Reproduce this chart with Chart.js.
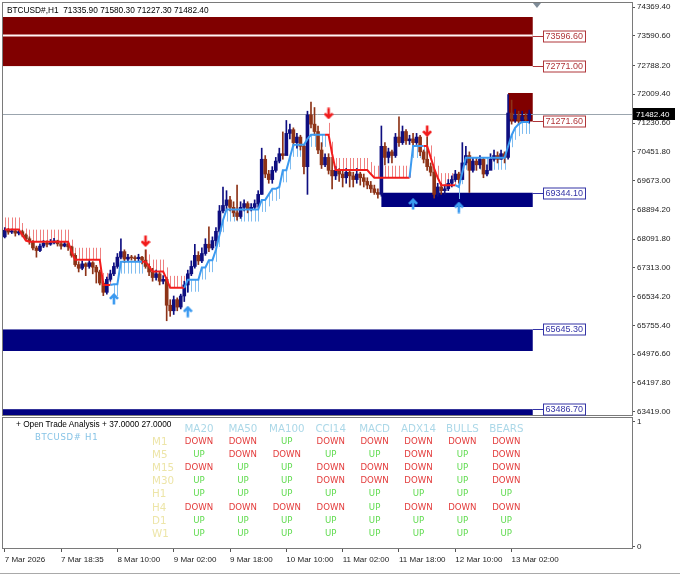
<!DOCTYPE html>
<html>
<head>
<meta charset="utf-8">
<script src="https://cdn.jsdelivr.net/npm/chart.js@4.4.1/dist/chart.umd.min.js"></script>
<style>
  html, body { margin: 0; padding: 0; background: #fff; }
  #wrap { position: relative; width: 680px; height: 575px; overflow: hidden; background: #fff; }
  #main { position: absolute; left: 0; top: 0; }
  #sub { position: absolute; left: 0; top: 415px; }
  .hdr { position: absolute; left: 7px; top: 5px; font: 8.3px "Liberation Sans", Arial, sans-serif; color: #000; white-space: pre; line-height: 10px; }
  .ota { position: absolute; left: 16px; top: 419px; font: 8.3px "Liberation Sans", Arial, sans-serif; color: #000; white-space: pre; line-height: 10px; }
  .sym { position: absolute; left: 35px; top: 432px; font: 8.5px "DejaVu Sans", sans-serif; color: #86c3e6; letter-spacing: 0.7px; white-space: pre; line-height: 10px; }
  .cell { position: absolute; width: 60px; text-align: center; white-space: pre; line-height: 12px; font-family: "DejaVu Sans", sans-serif; }
  .colh { font-size: 10.3px; color: #acd8e8; }
  .rowh { font-size: 10.3px; color: #ede5a8; text-align: left; }
  .dn { font-size: 8.6px; color: #e33b3b; }
  .up { font-size: 8.6px; color: #5fdb4e; }
  .strip { position: absolute; left: 0; top: 573px; width: 680px; height: 1px; background: #a9a9a9; }
</style>
</head>
<body>
<div id="wrap">
  <canvas id="main" width="680" height="418"></canvas>
  <canvas id="sub" width="680" height="160"></canvas>
  <div class="hdr" id="hdr"></div>
  <div class="ota">+ Open Trade Analysis + 37.0000 27.0000</div>
  <div class="sym">BTCUSD# H1</div>
  <div id="table"></div>
  <div class="strip"></div>
</div>
<script>
// ---------- Datos ----------
var symbolName = "BTCUSD#,H1";
var firstOpen = 68150;
var closes = [
  68330, 68280, 68310, 68250, 68290, 68200, 68100, 68020, 67850, 67780,
  67900, 67980, 67950, 67990, 68040, 67960, 67900, 67960, 67880, 67650,
  67400, 67300, 67420, 67350, 67450, 67330, 67200, 66900, 66650, 67000,
  67150, 67350, 67600, 67750, 67550, 67600, 67580, 67560, 67600, 67520,
  67350, 67200, 67050, 67150, 66950, 67000, 66300, 66150, 66450, 66250,
  66550, 66850, 67150, 67350, 67650, 67500, 67700, 67950, 67850, 68050,
  68300, 68850, 69000, 69150, 68950, 68800, 68700, 68950, 69050, 68900,
  68950, 69050, 69300, 70250, 69850, 69700, 69950, 70200, 70400, 70350,
  70950, 71050, 70700, 70850, 70600, 70050, 71450, 71200, 71000, 70500,
  70100, 70300, 69950, 69800, 69950, 69850, 69750, 69900, 69800, 69700,
  69850, 69750, 69650, 69550, 69450, 69350, 69300, 70600, 70300, 70450,
  70350, 70850, 70700, 71000, 70750, 70800, 70700, 70850, 70450, 70250,
  70050, 69900, 69300, 69500, 69400, 69450, 69600, 69700, 69850, 69700,
  70150, 70350, 69950, 70200, 70100, 70250, 69850, 69950, 70250, 70350,
  70250, 70400, 70300, 71500, 71350, 71450, 71300, 71400, 71335.9, 71482.4
];
var highs = [
  68400, 68380, 68360, 68340, 68350, 68330, 68230, 68150, 68050, 67900,
  67960, 68050, 68040, 68080, 68110, 68060, 68000, 68030, 67990, 67900,
  67700, 67480, 67500, 67450, 67520, 67480, 67380, 67250, 66950, 67060,
  67250, 67450, 67700, 68100, 67800, 67680, 67650, 67640, 67680, 67620,
  67800, 67420, 67300, 67250, 67200, 67100, 67050, 66450, 66550, 66500,
  66600, 66950, 67250, 67500, 67950, 67750, 67850, 68100, 68420, 68150,
  68400, 69000, 69500, 69400, 69250, 69100, 69550, 69100, 69150, 69100,
  69050, 69150, 69400, 70550, 70350, 69950, 70050, 70300, 70550, 70990,
  71300, 71200, 71100, 70950, 70900, 70650, 71550, 71800, 71650, 71150,
  70700, 70400, 70400, 70300, 70050, 70000, 69950, 70000, 69950, 69900,
  70000, 69900, 69850, 69750, 69650, 69550, 69450, 71150, 70700, 70550,
  70500, 70950, 71400, 71150, 71050, 70900, 70950, 70950, 70900, 70500,
  70850, 70150, 70000, 69600, 69600, 69550, 69700, 69800, 69950, 69900,
  70700, 70600, 70450, 70300, 70300, 70350, 70300, 70100, 70400, 70500,
  70450, 70500, 70450, 72000, 71850, 71600, 71550, 71550, 71500, 71580.3
];
var lows = [
  68120, 68220, 68240, 68170, 68200, 68150, 68050, 67950, 67800, 67600,
  67750, 67860, 67880, 67920, 67960, 67900, 67820, 67880, 67780, 67600,
  67350, 67200, 67260, 67100, 67300, 67150, 66900, 66850, 66560, 66600,
  66950, 67100, 67300, 67550, 67450, 67480, 67520, 67480, 67500, 67420,
  67300, 67100, 66950, 66980, 66850, 66880, 65880, 66000, 66050, 66150,
  66200, 66400, 66650, 67100, 67300, 67400, 67450, 67650, 67750, 67800,
  67900, 68250, 68800, 68900, 68850, 68700, 68600, 68650, 68850, 68800,
  68850, 68900, 68950, 69300, 69750, 69600, 69600, 69900, 70150, 70250,
  70500, 70800, 70600, 70550, 70500, 69850, 69300, 71100, 70900, 70400,
  70000, 70050, 69850, 69450, 69700, 69650, 69500, 69600, 69500, 69500,
  69600, 69550, 69500, 69450, 69350, 69300, 69200, 69250, 70100, 70150,
  70150, 70300, 70600, 70650, 70650, 70650, 70600, 70650, 70350, 70150,
  69950, 69800, 69200, 69250, 69300, 69300, 69400, 69500, 69650, 69600,
  69750, 70100, 69350, 69900, 69950, 70000, 69750, 69800, 70050, 70200,
  70150, 70250, 70150, 70250, 71200, 71250, 71200, 71250, 71250, 71227.3
];
// Línea de tendencia (roja arriba del precio, azul debajo)
var trendLine = [
  68350, 68350, 68350, 68350, 68350, 68200, 68050, 68020, 68020, 68020,
  68020, 68020, 68020, 68020, 68020, 68020, 68020, 68020, 68020, 67750,
  67530, 67530, 67530, 67530, 67530, 67530, 67530, 67530, 66850, 66850,
  66850, 66870, 66870, 67480, 67480, 67480, 67480, 67480, 67480, 67480,
  67480, 67350, 67210, 67210, 67210, 67210, 67000, 66770, 66770, 66770,
  66770, 66770, 66990, 66990, 66990, 66990, 67320, 67320, 67520, 67520,
  67800, 68200, 68600, 68890, 68890, 68890, 68890, 68890, 68890, 68890,
  68890, 68890, 68890, 69150, 69150, 69300, 69450, 69450, 69500, 69950,
  69950, 70300, 70640, 70640, 70640, 70640, 70800, 70910, 70910, 70910,
  70910, 70910, 70910, 70400, 69960, 69960, 69960, 69960, 69960, 69960,
  69960, 69960, 69960, 69960, 69850, 69750, 69750, 69750, 69750, 69750,
  69750, 69750, 69750, 69750, 69750, 69750, 70610, 70610, 70610, 70610,
  70610, 70300, 70000, 69750, 69550, 69550, 69550, 69550, 69550, 69500,
  69900, 70290, 70290, 70290, 70290, 70290, 70290, 70290, 70290, 70290,
  70290, 70290, 70290, 70600, 70900, 71100, 71200, 71260, 71260, 71260
];
var trendFlips = [31, 40, 52, 92, 116, 120, 129];   // empieza bajista
var sellArrowBars = [40, 92, 120];
var sellArrowPrices = [68038, 71493, 71014];
var buyArrowBars = [31, 52, 116, 129];
var buyArrowPrices = [66469, 66125, 69039, 68944];

// Zonas de oferta / demanda
var zoneFrom = [-0.5, 143, 107, -0.5, -0.5];
var zoneTo = [150, 150, 150, 150, 150];
var zoneHigh = [74099, 72043, 69344.10, 65645.30, 63486.70];
var zoneLow = [72771.00, 71271.60, 68958, 65062, 63300];
var zoneKind = ["supply", "supply", "demand", "demand", "demand"];
var zoneMidLine = 73596.60;
var levelPrices = [73596.60, 72771.00, 71271.60, 69344.10, 65645.30, 63486.70];
var levelKind = ["supply", "supply", "supply", "demand", "demand", "demand"];
var levelEndBar = 150;
var bidPrice = 71482.40;

// Ejes
var yTicks = [74369.40, 73590.60, 72788.20, 72009.40, 71230.60, 70451.80, 69673.00, 68894.20,
              68091.80, 67313.00, 66534.20, 65755.40, 64976.60, 64197.80, 63419.00];
var yMin = 63330, yMax = 74478;
var xMin = -0.5, xMax = 178.2, shiftMarkBar = 151.2;
var timeLabelBars = [0, 16, 32, 48, 64, 80, 96, 112, 128, 144];
var timeLabels = ["7 Mar 2026", "7 Mar 18:35", "8 Mar 10:00", "9 Mar 02:00", "9 Mar 18:00",
                  "10 Mar 10:00", "11 Mar 02:00", "11 Mar 18:00", "12 Mar 10:00", "13 Mar 02:00"];

// Tabla del panel inferior
var tfNames = ["M1", "M5", "M15", "M30", "H1", "H4", "D1", "W1"];
var indNames = ["MA20", "MA50", "MA100", "CCI14", "MACD", "ADX14", "BULLS", "BEARS"];
var signalRows = [
  ["DOWN", "DOWN", "UP", "DOWN", "DOWN", "DOWN", "DOWN", "DOWN"],
  ["UP", "DOWN", "DOWN", "UP", "UP", "DOWN", "UP", "DOWN"],
  ["DOWN", "UP", "UP", "DOWN", "DOWN", "DOWN", "UP", "DOWN"],
  ["UP", "UP", "UP", "DOWN", "DOWN", "DOWN", "UP", "DOWN"],
  ["UP", "UP", "UP", "UP", "UP", "UP", "UP", "UP"],
  ["DOWN", "DOWN", "DOWN", "DOWN", "UP", "DOWN", "DOWN", "DOWN"],
  ["UP", "UP", "UP", "UP", "UP", "UP", "UP", "UP"],
  ["UP", "UP", "UP", "UP", "UP", "UP", "UP", "UP"]
];

// ---------- Derivados ----------
var N = closes.length;
var opens = closes.map(function (c, i) { return i === 0 ? firstOpen : closes[i - 1]; });
var trendDir = [];
(function () {
  var d = -1, f = 0;
  for (var i = 0; i < N; i++) {
    if (f < trendFlips.length && i === trendFlips[f]) { d = -d; f++; }
    trendDir.push(d);
  }
})();

var BULL = "#0e0e80", BEAR = "#8d3317";
var RED = "#f21c1c", BLUE = "#3b9af0";
var RED_H = "#ef8080", BLUE_H = "#80bdf0";
var SUPPLY = "#800000", DEMAND = "#000080";
var LBL_SUPPLY = "#b0363a", LBL_DEMAND = "#3434a6";

function candleColor(ctx) {
  var i = ctx.dataIndex;
  return closes[i] >= opens[i] ? BULL : BEAR;
}

function arrowImg(color, down) {
  var c = document.createElement("canvas");
  c.width = 10; c.height = 12;
  var g = c.getContext("2d");
  if (down) { g.translate(0, 12); g.scale(1, -1); }
  g.strokeStyle = color; g.lineWidth = 2.6; g.lineJoin = "miter";
  g.beginPath(); g.moveTo(5, 11.5); g.lineTo(5, 1.8); g.stroke();
  g.beginPath(); g.moveTo(1, 5.8); g.lineTo(5, 1.8); g.lineTo(9, 5.8); g.stroke();
  return c;
}

// sin relleno extra por las etiquetas del eje
function noPad(s) { s.paddingTop = 0; s.paddingBottom = 0; s.paddingLeft = 0; s.paddingRight = 0; }

document.getElementById("hdr").textContent = symbolName + "  " +
  [opens[N - 1], highs[N - 1], lows[N - 1], closes[N - 1]].map(function (v) { return v.toFixed(2); }).join(" ");

// ---------- Plugins ----------
var backPlugin = {
  id: "back",
  beforeDatasetsDraw: function (chart) {
    var ctx = chart.ctx, a = chart.chartArea, xs = chart.scales.x, ys = chart.scales.y;
    ctx.save();
    ctx.beginPath(); ctx.rect(a.left, a.top, a.right - a.left, a.bottom - a.top); ctx.clip();
    zoneHigh.forEach(function (hi, k) {
      var x1 = xs.getPixelForValue(zoneFrom[k]), x2 = xs.getPixelForValue(zoneTo[k]);
      var y1 = ys.getPixelForValue(hi), y2 = ys.getPixelForValue(zoneLow[k]);
      ctx.fillStyle = zoneKind[k] === "supply" ? SUPPLY : DEMAND;
      ctx.fillRect(x1, y1, x2 - x1, y2 - y1);
    });
    var ym = ys.getPixelForValue(zoneMidLine);
    ctx.strokeStyle = "#fff4f4"; ctx.lineWidth = 2;
    ctx.beginPath();
    ctx.moveTo(xs.getPixelForValue(zoneFrom[0]), ym);
    ctx.lineTo(xs.getPixelForValue(zoneTo[0]), ym);
    ctx.stroke();
    // línea del precio actual
    var yb = Math.round(ys.getPixelForValue(bidPrice)) + 0.5;
    ctx.strokeStyle = "#9ba5ae"; ctx.lineWidth = 1;
    ctx.beginPath(); ctx.moveTo(a.left, yb); ctx.lineTo(a.right, yb); ctx.stroke();
    // rayado de la tendencia
    ctx.lineWidth = 1;
    for (var i = 0; i < N; i++) {
      var x = Math.round(xs.getPixelForValue(i)) + 0.5, y = ys.getPixelForValue(trendLine[i]);
      ctx.strokeStyle = trendDir[i] > 0 ? BLUE_H : RED_H;
      ctx.beginPath(); ctx.moveTo(x, y); ctx.lineTo(x, y + (trendDir[i] > 0 ? 12 : -12)); ctx.stroke();
    }
    ctx.restore();
  },
  afterDraw: function (chart) {
    var ctx = chart.ctx, a = chart.chartArea, xs = chart.scales.x, ys = chart.scales.y;
    ctx.save();
    // marco
    ctx.strokeStyle = "#7a7a7a"; ctx.lineWidth = 1;
    ctx.strokeRect(a.left - 0.5, a.top - 0.5, a.right - a.left + 1, a.bottom - a.top + 1);
    // etiquetas de niveles
    var xe = xs.getPixelForValue(levelEndBar);
    ctx.font = '9px "Liberation Sans", Arial, sans-serif';
    ctx.textBaseline = "middle";
    levelPrices.forEach(function (p, k) {
      var y = Math.round(ys.getPixelForValue(p)) + 0.5;
      var col = levelKind[k] === "supply" ? LBL_SUPPLY : LBL_DEMAND;
      var txt = p.toFixed(2), w = Math.ceil(ctx.measureText(txt).width) + 4;
      var bx = Math.round(xe) + 10.5;
      ctx.strokeStyle = col;
      ctx.beginPath(); ctx.moveTo(xe, y); ctx.lineTo(bx, y); ctx.stroke();
      ctx.fillStyle = "#fff"; ctx.fillRect(bx, y - 5.5, w, 11);
      ctx.strokeRect(bx, y - 5.5, w, 11);
      ctx.fillStyle = col; ctx.textAlign = "left";
      ctx.fillText(txt, bx + 2, y + 0.5);
    });
    // caja del precio actual
    var yb = Math.round(ys.getPixelForValue(bidPrice));
    ctx.fillStyle = "#000"; ctx.fillRect(a.right + 1, yb - 6, 42, 12);
    ctx.fillStyle = "#fff"; ctx.font = '8px "Liberation Sans", Arial, sans-serif';
    ctx.fillText(bidPrice.toFixed(2), a.right + 4, yb + 0.5);
    // marca de desplazamiento
    var xm = xs.getPixelForValue(shiftMarkBar);
    ctx.fillStyle = "#7f8c98";
    ctx.beginPath(); ctx.moveTo(xm - 4, a.top); ctx.lineTo(xm + 4, a.top); ctx.lineTo(xm, a.top + 5); ctx.closePath(); ctx.fill();
    ctx.restore();
  }
};

var framePlugin = {
  id: "frame",
  afterDraw: function (chart) {
    var ctx = chart.ctx, a = chart.chartArea;
    ctx.save();
    ctx.strokeStyle = "#7a7a7a"; ctx.lineWidth = 1;
    ctx.strokeRect(a.left - 0.5, a.top - 0.5, a.right - a.left + 1, a.bottom - a.top + 1);
    ctx.restore();
  }
};

// ---------- Gráfico principal ----------
var idx = closes.map(function (c, i) { return i; });
new Chart(document.getElementById("main"), {
  type: "bar",
  data: {
    datasets: [
      {
        type: "bar", order: 4, grouped: false,
        data: idx.map(function (i) { return { x: i, y: [lows[i], highs[i]] }; }),
        backgroundColor: candleColor, borderWidth: 0, barThickness: 1
      },
      {
        type: "bar", order: 3, grouped: false,
        data: idx.map(function (i) { return { x: i, y: [opens[i], closes[i]] }; }),
        backgroundColor: candleColor, borderWidth: 0, barThickness: 3, minBarLength: 1
      },
      {
        type: "line", order: 2,
        data: idx.map(function (i) { return { x: i, y: trendLine[i] }; }),
        borderColor: RED, borderWidth: 2, pointRadius: 0, tension: 0,
        segment: { borderColor: function (ctx) { return trendDir[ctx.p1DataIndex] > 0 ? BLUE : RED; } }
      },
      {
        type: "scatter", order: 1,
        data: sellArrowBars.map(function (b, k) { return { x: b, y: sellArrowPrices[k] }; }),
        pointStyle: arrowImg(RED, true), pointRadius: 6
      },
      {
        type: "scatter", order: 1,
        data: buyArrowBars.map(function (b, k) { return { x: b, y: buyArrowPrices[k] }; }),
        pointStyle: arrowImg(BLUE, false), pointRadius: 6
      }
    ]
  },
  options: {
    responsive: false, animation: false, devicePixelRatio: 1,
    layout: { autoPadding: false, padding: { left: 3, top: 3, right: 0, bottom: 3 } },
    plugins: { legend: { display: false }, tooltip: { enabled: false } },
    scales: {
      x: { type: "linear", min: xMin, max: xMax, offset: false, display: false },
      y: {
        type: "linear", position: "right", min: yMin, max: yMax,
        afterBuildTicks: function (s) { s.ticks = yTicks.map(function (v) { return { value: v }; }); },
        afterFit: function (s) { s.width = 48; noPad(s); },
        ticks: {
          autoSkip: false, padding: 2, color: "#1c1c1c",
          font: { family: "Liberation Sans", size: 8 },
          callback: function (v) { return Number(v).toFixed(2); }
        },
        grid: { drawOnChartArea: false, tickLength: 3, color: "#555" },
        border: { color: "#6f6f6f" }
      }
    }
  },
  plugins: [backPlugin]
});

// ---------- Panel inferior ----------
new Chart(document.getElementById("sub"), {
  type: "line",
  data: { datasets: [{ data: [] }] },
  options: {
    responsive: false, animation: false, devicePixelRatio: 1,
    layout: { autoPadding: false, padding: { left: 3, top: 3, right: 0, bottom: 0 } },
    plugins: { legend: { display: false }, tooltip: { enabled: false } },
    scales: {
      x: {
        type: "linear", min: xMin, max: xMax, position: "bottom",
        afterBuildTicks: function (s) { s.ticks = timeLabelBars.map(function (v) { return { value: v }; }); },
        afterFit: function (s) { s.height = 27; noPad(s); },
        ticks: {
          autoSkip: false, maxRotation: 0, align: "start", padding: 3, color: "#1c1c1c",
          font: { family: "Liberation Sans", size: 8 },
          callback: function (v) { return timeLabels[timeLabelBars.indexOf(v)]; }
        },
        grid: { drawOnChartArea: false, tickLength: 4, color: "#555" },
        border: { color: "#6f6f6f" }
      },
      y: {
        type: "linear", position: "right", min: -0.012, max: 1.03,
        afterBuildTicks: function (s) { s.ticks = [{ value: 0 }, { value: 1 }]; },
        afterFit: function (s) { s.width = 48; noPad(s); },
        ticks: { padding: 2, color: "#1c1c1c", font: { family: "Liberation Sans", size: 8 },
                 callback: function (v) { return String(v); } },
        grid: { drawOnChartArea: false, tickLength: 3, color: "#555" },
        border: { color: "#6f6f6f" }
      }
    }
  },
  plugins: [framePlugin]
});

// ---------- Tabla ----------
(function () {
  var box = document.getElementById("table");
  var colX0 = 199, colDx = 43.9, rowY0 = 441, rowDy = 13.1, headY = 428;
  function cell(txt, cls, cx, cy, left) {
    var d = document.createElement("div");
    d.className = "cell " + cls;
    d.textContent = txt;
    d.style.left = (left ? cx : cx - 30) + "px";
    d.style.top = (cy - 6) + "px";
    box.appendChild(d);
  }
  indNames.forEach(function (n, c) { cell(n, "colh", colX0 + c * colDx, headY); });
  tfNames.forEach(function (tf, r) {
    var y = rowY0 + r * rowDy;
    cell(tf, "rowh", 152, y, true);
    signalRows[r].forEach(function (s, c) {
      cell(s, s === "UP" ? "up" : "dn", colX0 + c * colDx, y);
    });
  });
})();
</script>
</body>
</html>
